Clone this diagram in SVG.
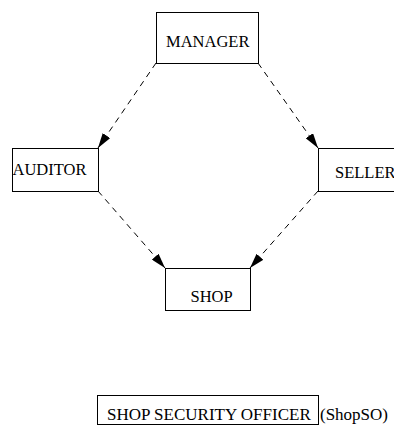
<svg xmlns="http://www.w3.org/2000/svg" width="394" height="427" viewBox="0 0 394 427">
<style>
.box{fill:#fff;stroke:#000;stroke-width:1}
.lbl{font-family:"Liberation Serif","Times New Roman",serif;font-size:16.5px;fill:#000}
.big{font-family:"Liberation Serif","Times New Roman",serif;font-size:17px;fill:#000}
.edge{fill:none;stroke:#000;stroke-width:1;stroke-dasharray:6,5}
</style>
<defs>
<marker id="ah" viewBox="0 0 15 9" refX="15" refY="4.5" markerWidth="15" markerHeight="9" markerUnits="userSpaceOnUse" orient="auto">
<path d="M0,0 L15,4.5 L0,9 z" fill="#000"/>
</marker>
</defs>
<rect width="394" height="427" fill="#fff"/>
<g id="connectors">
<line class="edge" x1="156" y1="63" x2="98" y2="148" marker-end="url(#ah)"/>
<line class="edge" x1="258" y1="63" x2="318" y2="148" marker-end="url(#ah)"/>
<line class="edge" x1="98" y1="191" x2="165" y2="268" marker-end="url(#ah)"/>
<line class="edge" x1="318" y1="191" x2="250" y2="268" marker-end="url(#ah)"/>
</g>
<g id="manager">
<rect class="box" x="156.5" y="12.5" width="102" height="51"/>
<text class="lbl" x="166" y="47">MANAGER</text>
</g>
<g id="auditor">
<rect class="box" x="12.5" y="148.5" width="86" height="43"/>
<text class="lbl" x="12.5" y="175">AUDITOR</text>
</g>
<g id="seller">
<rect class="box" x="318.5" y="148.5" width="100" height="43"/>
<text class="lbl" x="335" y="178">SELLER</text>
</g>
<g id="shop">
<rect class="box" x="165.5" y="268.5" width="85" height="42"/>
<text class="lbl" x="190.5" y="302">SHOP</text>
</g>
<g id="shopso">
<rect class="box" x="97.5" y="395.5" width="221" height="29"/>
<text class="big" x="107" y="420">SHOP SECURITY OFFICER</text>
<text class="big" x="320" y="420">(ShopSO)</text>
</g>
</svg>
